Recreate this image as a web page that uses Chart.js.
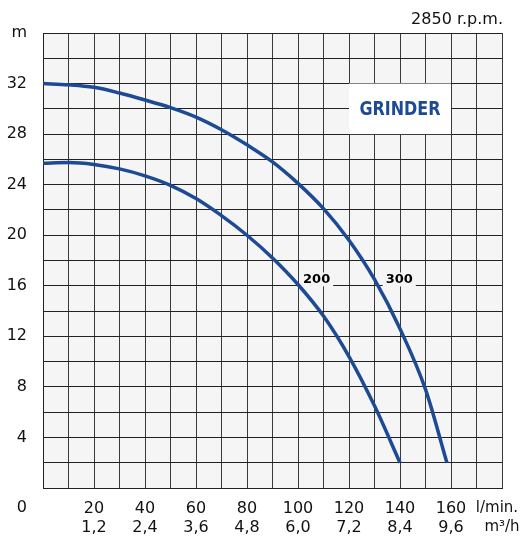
<!DOCTYPE html>
<html>
<head>
<meta charset="utf-8">
<script src="https://cdn.jsdelivr.net/npm/chart.js@4.4.1/dist/chart.umd.min.js"></script>
<style>
  html, body { margin: 0; padding: 0; background: #fff; }
  #wrap { width: 525px; height: 537px; }
</style>
</head>
<body>
<div id="wrap"><canvas id="pumpChart" width="525" height="537"></canvas></div>
<script>
// flow in l/min, head in m
var flow300 = [0, 10, 20, 30, 40, 50, 60, 70, 80, 90, 100, 110, 120, 130, 140, 150, 158.4];
var head300 = [32.0, 31.9, 31.7, 31.25, 30.7, 30.1, 29.35, 28.35, 27.15, 25.8, 24.1, 22.1, 19.6, 16.5, 12.6, 7.8, 2.0];
var flow200 = [0, 10, 20, 30, 40, 50, 60, 70, 80, 90, 100, 110, 120, 130, 140];
var head200 = [25.7, 25.75, 25.6, 25.25, 24.7, 23.95, 22.9, 21.55, 20.0, 18.2, 16.1, 13.6, 10.4, 6.5, 2.0];

// tick labels
var flowTicks = [20, 40, 60, 80, 100, 120, 140, 160];
var m3hTicks = ['1,2', '2,4', '3,6', '4,8', '6,0', '7,2', '8,4', '9,6'];
var headTicks = [4, 8, 12, 16, 20, 24, 28, 32];

var curveColor = '#1d4a94';
var fontMain = "'DejaVu Sans', sans-serif";

function toPoints(xs, ys) {
    var pts = [];
    for (var i = 0; i < xs.length; i++) pts.push({x: xs[i], y: ys[i]});
    return pts;
}

// background of the plot + white "GRINDER" box + extra texts
var decorations = {
    id: 'decorations',
    beforeDraw: function (chart) {
        var a = chart.chartArea, ctx = chart.ctx;
        ctx.save();
        ctx.fillStyle = '#f5f5f5';
        ctx.fillRect(a.left, a.top, a.right - a.left, a.bottom - a.top);
        ctx.restore();
    },
    beforeDatasetsDraw: function (chart) {
        var ctx = chart.ctx, x = chart.scales.x, y = chart.scales.y;
        var x0 = x.getPixelForValue(120), x1 = x.getPixelForValue(160);
        var y0 = y.getPixelForValue(32), y1 = y.getPixelForValue(28);
        ctx.save();
        ctx.fillStyle = '#ffffff';
        ctx.fillRect(x0, y0, x1 - x0, y1 - y0);
        // GRINDER, condensed bold
        ctx.font = "bold 19px " + fontMain;
        var w = ctx.measureText('GRINDER').width;
        var cx = (x0 + x1) / 2, cy = (y0 + y1) / 2;
        ctx.translate(cx, cy);
        ctx.scale(81 / w, 1);
        ctx.fillStyle = curveColor;
        ctx.textAlign = 'center';
        ctx.textBaseline = 'middle';
        ctx.fillText('GRINDER', 0, 1);
        ctx.restore();

        // curve names
        ctx.save();
        ctx.font = "bold 13px " + fontMain;
        ctx.textAlign = 'center';
        ctx.textBaseline = 'middle';
        [['200', 107.3], ['300', 139.7]].forEach(function (l) {
            var px = x.getPixelForValue(l[1]), py = y.getPixelForValue(16.5);
            var tw = ctx.measureText(l[0]).width;
            ctx.fillStyle = '#f5f5f5';
            ctx.fillRect(px - tw / 2 - 3, py - 7, tw + 6, 14);
            ctx.fillStyle = '#000';
            ctx.fillText(l[0], px, py);
        });
        ctx.restore();
    },
    afterDraw: function (chart) {
        var ctx = chart.ctx;
        ctx.save();
        ctx.font = "16px " + fontMain;
        ctx.fillStyle = '#111';
        ctx.textAlign = 'right';
        ctx.textBaseline = 'middle';
        ctx.fillText('2850 r.p.m.', 503, 20);
        ctx.fillText('0', 27, 508);
        ctx.textAlign = 'center';
        ctx.font = "15px " + fontMain;
        ctx.fillText('l/min.', 497, 508);
        ctx.fillText('m³/h', 502, 527);
        ctx.restore();
    }
};

var ctx = document.getElementById('pumpChart').getContext('2d');

new Chart(ctx, {
    type: 'scatter',
    data: {
        datasets: [
            {
                label: '300',
                data: toPoints(flow300, head300),
                showLine: true,
                borderColor: curveColor,
                borderWidth: 3.5,
                pointRadius: 0,
                cubicInterpolationMode: 'monotone',
                fill: false
            },
            {
                label: '200',
                data: toPoints(flow200, head200),
                showLine: true,
                borderColor: curveColor,
                borderWidth: 3.5,
                pointRadius: 0,
                cubicInterpolationMode: 'monotone',
                fill: false
            }
        ]
    },
    options: {
        responsive: false,
        animation: false,
        layout: { padding: { top: 33, right: 23, left: 0, bottom: 0 } },
        plugins: {
            legend: { display: false },
            tooltip: { enabled: false }
        },
        scales: {
            x: {
                type: 'linear',
                min: 0,
                max: 180,
                afterFit: function (s) { s.height = 49; },
                border: { color: '#222', width: 1 },
                grid: { color: '#3a3a3a', lineWidth: 1, drawTicks: false },
                ticks: {
                    stepSize: 10,
                    autoSkip: false,
                    maxRotation: 0,
                    padding: 11,
                    color: '#111',
                    font: { family: fontMain, size: 16, lineHeight: 1.2 },
                    callback: function (v) {
                        var i = flowTicks.indexOf(v);
                        if (i < 0) return '';
                        return [String(v), m3hTicks[i]];
                    }
                }
            },
            y: {
                type: 'linear',
                min: 0,
                max: 36,
                afterFit: function (s) { s.width = 43; },
                border: { color: '#222', width: 1 },
                grid: { color: '#222', lineWidth: 1, drawTicks: false },
                ticks: {
                    stepSize: 2,
                    autoSkip: false,
                    padding: 16,
                    color: '#111',
                    font: { family: fontMain, size: 16 },
                    callback: function (v) {
                        if (v === 36) return 'm';
                        return headTicks.indexOf(v) >= 0 ? String(v) : '';
                    }
                }
            }
        }
    },
    plugins: [decorations]
});
</script>
</body>
</html>
